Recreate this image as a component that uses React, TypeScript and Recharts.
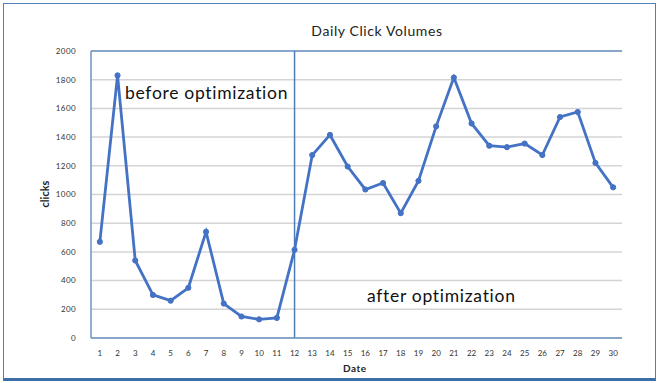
import React from 'react';
import { LineChart, Line, XAxis, YAxis, CartesianGrid, ReferenceLine } from 'recharts';

const days = [
    1, 2, 3, 4, 5, 6, 7, 8, 9, 10, 11, 12, 13, 14, 15, 16, 17, 18, 19, 20, 21, 22, 23, 24, 25, 26, 27, 28, 29, 30,
];
const clicks = [
    670, 1830, 540, 300, 260, 350, 740, 240, 150, 130, 140, 615, 1275, 1415, 1195, 1035, 1080, 870, 1095, 1475,
    1815, 1495, 1340, 1330, 1355, 1275, 1540, 1575, 1220, 1050,
];
const yTicks = [0, 200, 400, 600, 800, 1000, 1200, 1400, 1600, 1800, 2000];
const splitDay = 12;

const FONT = 'Lato, "Open Sans", sans-serif';
const LINE_BLUE = '#4472c4';
const FRAME_BLUE = '#6a93c2';

export default function App() {
    const chartData = days.map((d, i) => ({ day: d, clicks: clicks[i] }));

    return (
        <div
            style={{
                position: 'absolute',
                left: 0,
                top: 0,
                width: 661,
                height: 383,
                background: '#fff',
                fontFamily: FONT,
                overflow: 'hidden',
            }}
        >
            {/* outer chart frame */}
            <div
                style={{
                    position: 'absolute',
                    left: 3,
                    top: 3,
                    width: 651,
                    height: 374,
                    border: '1.5px solid #4f7fb3',
                    borderBottomWidth: 3,
                    borderBottomColor: '#3d6ea8',
                }}
            />
            <LineChart
                width={661}
                height={383}
                data={chartData}
                margin={{ top: 51, right: 39, left: 31, bottom: 0 }}
                style={{ position: 'absolute', left: 0, top: 0 }}
            >
                <CartesianGrid vertical={false} stroke="#d4d4d4" strokeWidth={1.5} />
                <XAxis
                    dataKey="day"
                    scale="band"
                    height={45}
                    tickLine={false}
                    axisLine={{ stroke: FRAME_BLUE, strokeWidth: 1.5 }}
                    tick={{ fontSize: 8, fill: '#333', fontFamily: FONT }}
                    tickMargin={6}
                    interval={0}
                />
                <YAxis
                    width={60}
                    domain={[0, 2000]}
                    ticks={yTicks}
                    tickLine={false}
                    axisLine={{ stroke: FRAME_BLUE, strokeWidth: 1.5 }}
                    tick={{ fontSize: 8, fill: '#333', fontFamily: FONT, letterSpacing: 0.4 }}
                    tickMargin={9}
                />
                <YAxis
                    yAxisId="frame"
                    orientation="right"
                    width={0}
                    domain={[0, 2000]}
                    tick={false}
                    tickLine={false}
                    axisLine={{ stroke: FRAME_BLUE, strokeWidth: 1.5 }}
                />
                <ReferenceLine y={2000} stroke={FRAME_BLUE} strokeWidth={1.5} />
                <ReferenceLine x={splitDay} stroke="#4a7ebb" strokeWidth={1.5} />
                <Line
                    type="linear"
                    dataKey="clicks"
                    stroke={LINE_BLUE}
                    strokeWidth={2.8}
                    dot={{ r: 2.6, fill: LINE_BLUE, stroke: LINE_BLUE, strokeWidth: 1 }}
                    isAnimationActive={false}
                />
            </LineChart>
            <div
                style={{
                    position: 'absolute',
                    left: 0,
                    width: 754,
                    top: 22,
                    textAlign: 'center',
                    fontSize: 14,
                    letterSpacing: 0.6,
                    color: '#222',
                }}
            >
                Daily Click Volumes
            </div>
            <div
                style={{
                    position: 'absolute',
                    left: 44,
                    top: 194,
                    transform: 'translate(-50%, -50%) rotate(-90deg)',
                    fontSize: 11,
                    fontWeight: 'bold',
                    color: '#222',
                }}
            >
                clicks
            </div>
            <div
                style={{
                    position: 'absolute',
                    left: 343,
                    top: 362,
                    fontSize: 10,
                    fontWeight: 'bold',
                    color: '#222',
                    letterSpacing: 0.5,
                }}
            >
                Date
            </div>
            <div style={{ position: 'absolute', left: 125, top: 82, fontSize: 17.5, color: '#111', letterSpacing: 0.7 }}>
                before optimization
            </div>
            <div style={{ position: 'absolute', left: 367, top: 285, fontSize: 17.5, color: '#111', letterSpacing: 0.7 }}>
                after optimization
            </div>
        </div>
    );
}
